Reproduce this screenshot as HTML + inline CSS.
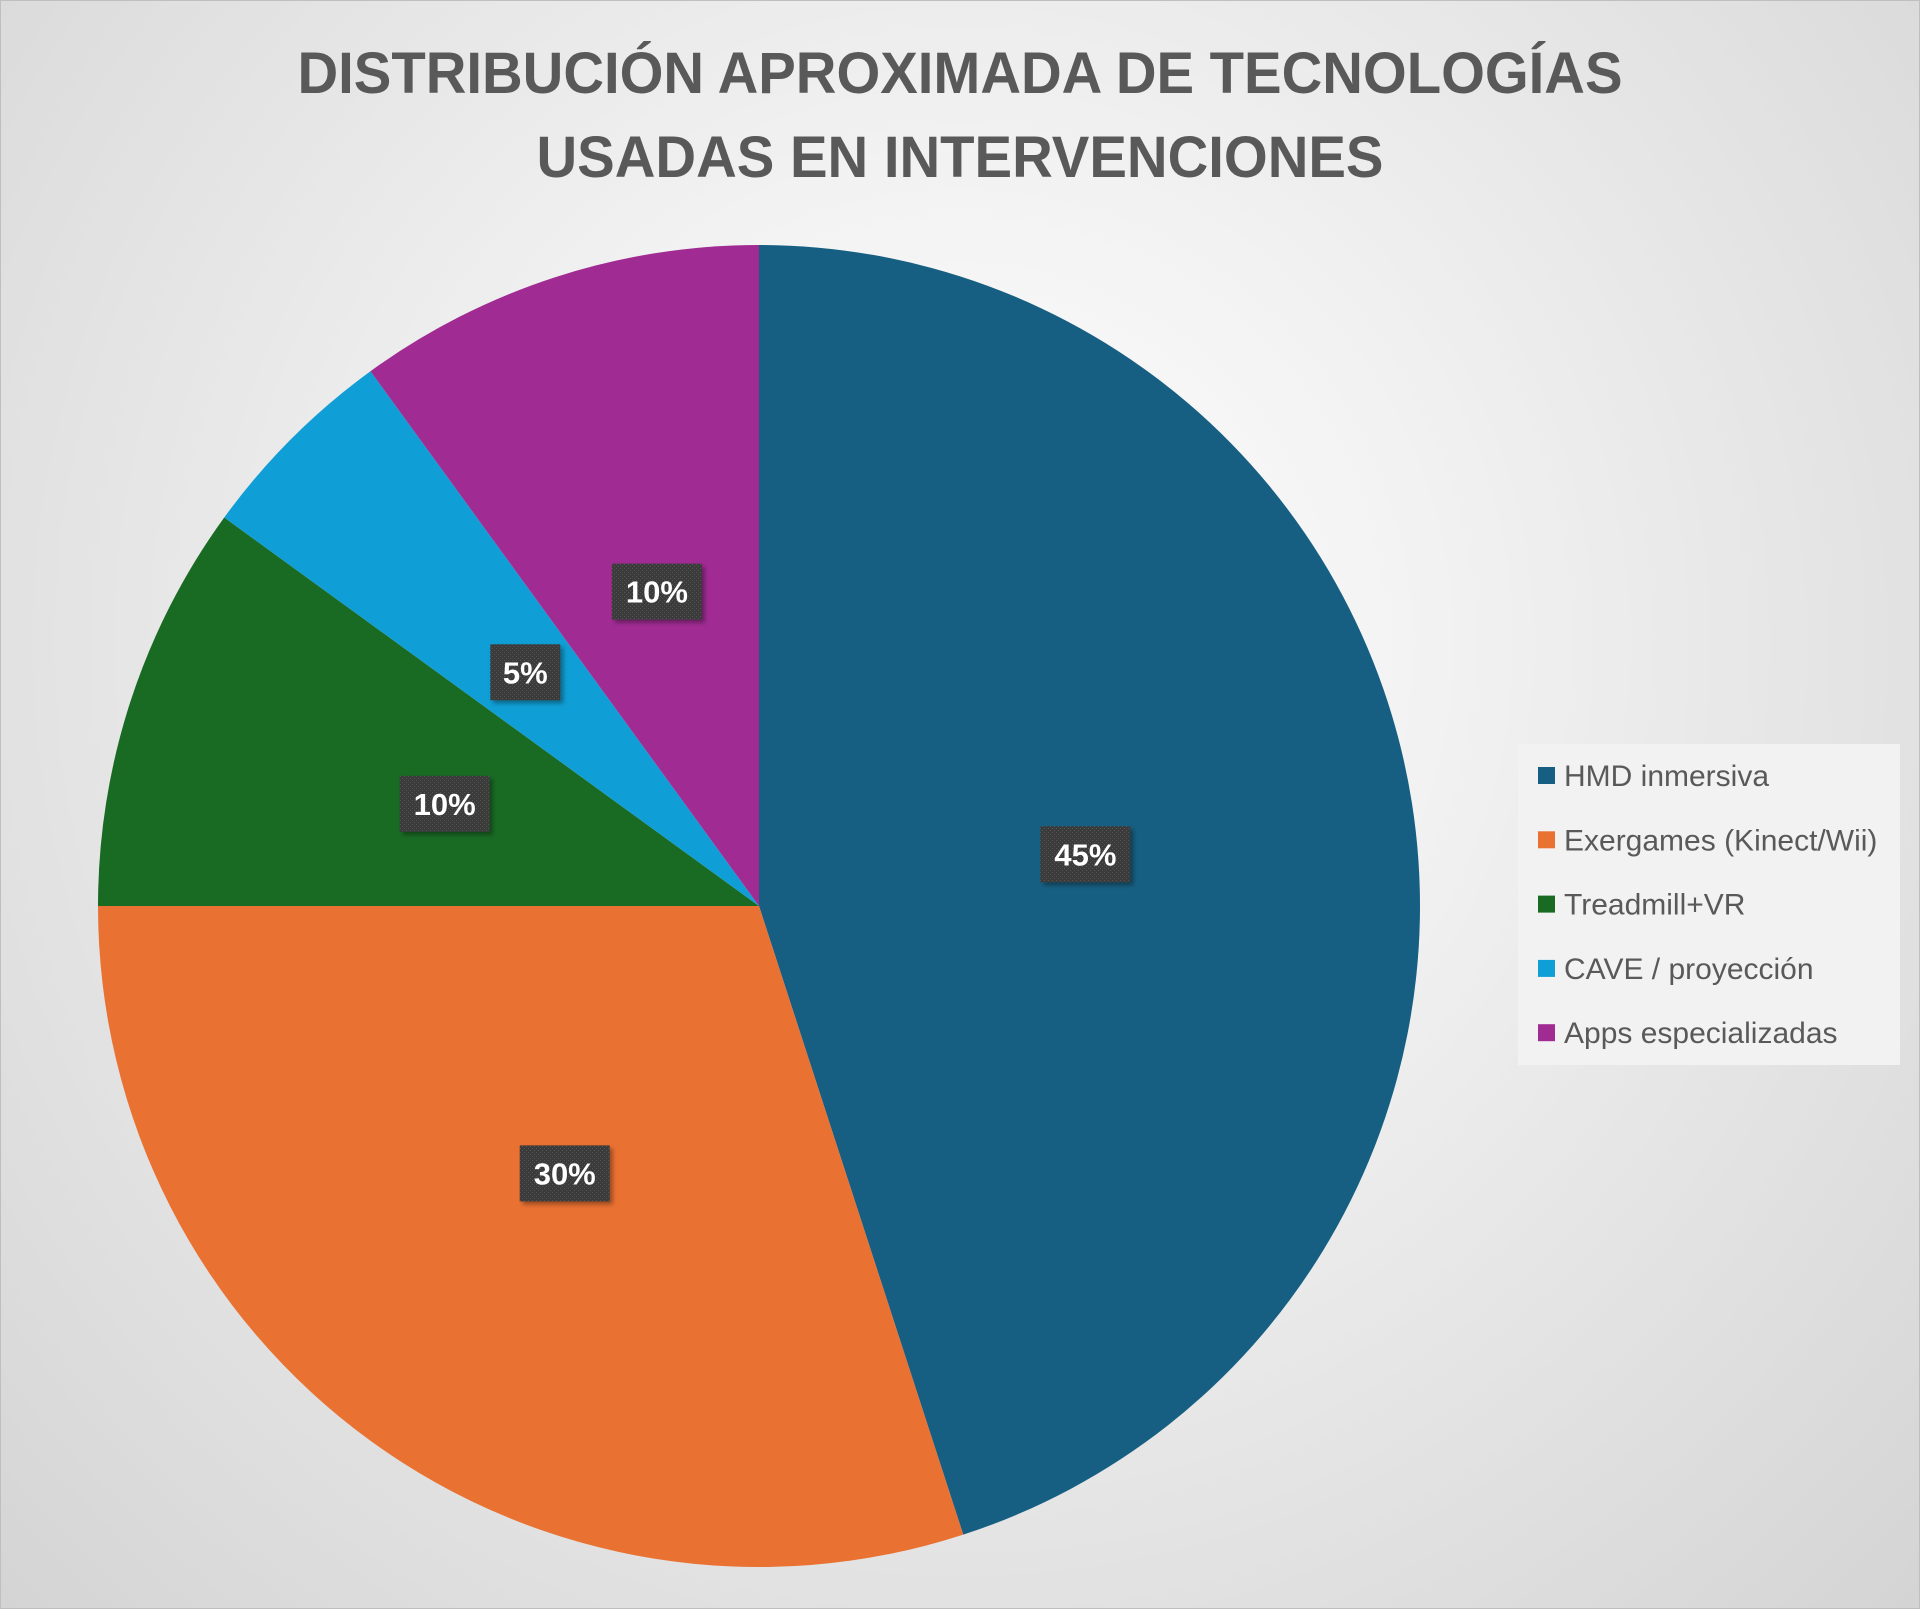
<!DOCTYPE html>
<html><head><meta charset="utf-8"><style>
html,body{margin:0;padding:0}
body{width:1920px;height:1609px;overflow:hidden;font-family:"Liberation Sans",sans-serif;
background:radial-gradient(ellipse at 50% 40%,#ffffff 0%,#f2f2f2 35%,#d4d4d4 100%);}
#frame{position:absolute;left:0;top:0;width:1918px;height:1607px;border:1px solid #bfbfbf}
</style></head><body>
<div id="frame"></div>
<svg id="chart" width="1920" height="1609" style="position:absolute;left:0;top:0">
<defs>
<pattern id="dots" width="4" height="4" patternUnits="userSpaceOnUse"><rect width="4" height="4" fill="#3a3a3a"/><rect x="0" y="0" width="1" height="1" fill="#555"/><rect x="2" y="2" width="1" height="1" fill="#555"/></pattern>
<filter id="sh" x="-20%" y="-20%" width="150%" height="150%"><feDropShadow dx="3" dy="3" stdDeviation="2" flood-color="#000" flood-opacity="0.35"/></filter>
</defs>
<text x="960" y="93" text-anchor="middle" font-size="58" font-weight="bold" fill="#595959" textLength="1325" lengthAdjust="spacingAndGlyphs">DISTRIBUCIÓN APROXIMADA DE TECNOLOGÍAS</text>
<text x="960" y="177" text-anchor="middle" font-size="58" font-weight="bold" fill="#595959" textLength="847" lengthAdjust="spacingAndGlyphs">USADAS EN INTERVENCIONES</text>
<g id="slices"></g><g id="labels"></g>
<rect x="1518" y="744" width="382" height="321" fill="#f2f2f2"/>
<g id="legend"></g>
</svg>
<script>
const categories=["HMD inmersiva","Exergames (Kinect/Wii)","Treadmill+VR","CAVE / proyección","Apps especializadas"];
const values=[45,30,10,5,10];
const colors=["#175f82","#e97132","#196b24","#0f9ed5","#a02b93"];
const cx=759,cy=906,R=661;
const NS="http://www.w3.org/2000/svg";
const total=values.reduce((a,b)=>a+b,0);
const sg=document.getElementById('slices'),lg=document.getElementById('labels'),leg=document.getElementById('legend');
function pt(a,r){return [cx+r*Math.sin(a),cy-r*Math.cos(a)];}
let acc=0;
values.forEach((v,i)=>{
  const a0=acc/total*2*Math.PI;acc+=v;const a1=acc/total*2*Math.PI;
  const p0=pt(a0,R),p1=pt(a1,R);
  const path=document.createElementNS(NS,'path');
  path.setAttribute('d',`M${cx},${cy} L${p0[0]},${p0[1]} A${R},${R} 0 ${a1-a0>Math.PI?1:0} 1 ${p1[0]},${p1[1]} Z`);
  path.setAttribute('fill',colors[i]);
  
  
  sg.appendChild(path);
  const m=pt((a0+a1)/2,R*0.5);
  const g=document.createElementNS(NS,'g');
  
  
  const txt=v+'%';const w=txt.length===2?70:90;
  const r=document.createElementNS(NS,'rect');
  r.setAttribute('x',m[0]-w/2);r.setAttribute('y',m[1]-28);r.setAttribute('width',w);r.setAttribute('height',56);
  r.setAttribute('fill','url(#dots)');r.setAttribute('filter','url(#sh)');
  g.appendChild(r);
  const t=document.createElementNS(NS,'text');
  t.setAttribute('x',m[0]);t.setAttribute('y',m[1]+11);t.setAttribute('text-anchor','middle');
  t.setAttribute('font-size','31');t.setAttribute('font-weight','bold');t.setAttribute('fill','#fff');
  t.textContent=txt;g.appendChild(t);lg.appendChild(g);
  const e=document.createElementNS(NS,'g');
  
  
  const y=776+i*64.3;
  const s=document.createElementNS(NS,'rect');
  s.setAttribute('x',1538);s.setAttribute('y',y-9);s.setAttribute('width',17);s.setAttribute('height',17);s.setAttribute('fill',colors[i]);
  e.appendChild(s);
  const lt=document.createElementNS(NS,'text');
  lt.setAttribute('x',1564);lt.setAttribute('y',y+10);lt.setAttribute('font-size','30');lt.setAttribute('fill','#595959');
  lt.textContent=categories[i];e.appendChild(lt);leg.appendChild(e);
});
</script>
</body></html>
